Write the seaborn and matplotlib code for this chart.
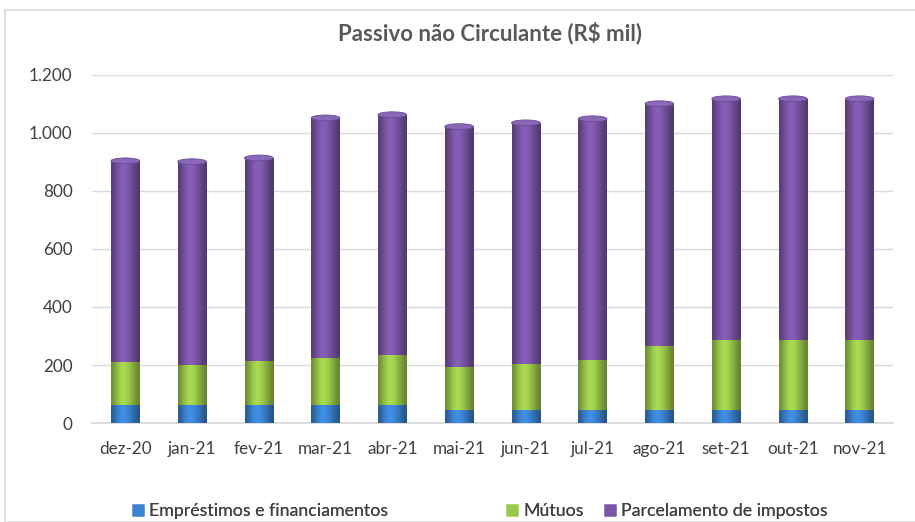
import matplotlib
matplotlib.use("Agg")
import matplotlib.pyplot as plt
import numpy as np
import pandas as pd
import seaborn as sns
from matplotlib.patches import Ellipse, Rectangle
from matplotlib.lines import Line2D

months = ["dez-20", "jan-21", "fev-21", "mar-21", "abr-21", "mai-21",
          "jun-21", "jul-21", "ago-21", "set-21", "out-21", "nov-21"]
emprestimos = [62, 62, 62, 62, 62, 44, 44, 44, 44, 44, 44, 44]
mutuos = [149, 139, 153, 163, 174, 150, 161, 174, 220, 243, 243, 243]
parcelamento = [693, 700, 699, 827, 827, 828, 830, 831, 837, 831, 831, 831]
series_names = ["Empréstimos e financiamentos", "Mútuos", "Parcelamento de impostos"]
colors = ["#3b82d0", "#9bc84a", "#7b56a8"]

sns.set_theme(style="white")
plt.rcParams["font.family"] = ["Lato", "DejaVu Sans"]

df = pd.DataFrame({"mes": months, "emp": emprestimos, "mut": mutuos, "parc": parcelamento})
df["lvl1"] = df["emp"]
df["lvl2"] = df["emp"] + df["mut"]
df["lvl3"] = df["lvl2"] + df["parc"]

fig = plt.figure(figsize=(9.15, 5.22), dpi=100)
fig.patches.append(Rectangle((5 / 915, 0.0), 1.0, 1 - 10 / 522, transform=fig.transFigure,
                             fill=False, edgecolor="#d9d9d9", linewidth=1.2))
ax = fig.add_axes([92 / 915, 1 - 423 / 522, 801 / 915, 348 / 522])

bar_w = 0.43
layers = [("lvl3", colors[2], 2), ("lvl2", colors[1], 3), ("lvl1", colors[0], 4)]
for col, c, z in layers:
    n_before = len(ax.patches)
    sns.barplot(data=df, x="mes", y=col, color=c, width=bar_w, saturation=1,
                ax=ax, zorder=z, linewidth=0)
    # cylinder-like shading
    rgb = np.array(matplotlib.colors.to_rgb(c))
    prof = np.array([0.72, 0.85, 0.98, 1.08, 1.1, 1.05, 0.96, 0.86, 0.76, 0.66])
    img = np.clip(prof[:, None] * rgb[None, :], 0, 1)[None, :, :]
    for p in ax.patches[n_before:]:
        x0, y0 = p.get_x(), p.get_y()
        w, h = p.get_width(), p.get_height()
        im = ax.imshow(img, extent=[x0, x0 + w, y0, y0 + h], aspect="auto",
                       zorder=z + 0.1, interpolation="bicubic")
        im.set_clip_path(p)

# top caps and floor shadows of the cylinders
for i, top in enumerate(df["lvl3"]):
    ax.add_patch(Ellipse((i, top), bar_w, 20, facecolor="#8a68b8",
                         edgecolor="#6a4a94", linewidth=0.6, zorder=5))
    ax.add_patch(Ellipse((i + 0.05, -4), bar_w * 1.6, 14, facecolor="#d8d8d8",
                         edgecolor="none", zorder=1.5))

ax.set_xlim(-0.5, len(months) - 0.5)
ax.set_ylim(0, 1200)
ax.set_yticks(range(0, 1201, 200))
ax.set_yticklabels([f"{v:,}".replace(",", ".") for v in range(0, 1201, 200)])
ax.yaxis.grid(True, color="#d9d9d9", linewidth=1)
ax.set_axisbelow(True)
for s in ["top", "right", "left"]:
    ax.spines[s].set_visible(False)
ax.spines["bottom"].set_color("#d9d9d9")
ax.tick_params(axis="both", length=0, labelsize=12.3, colors="#404040")
ax.tick_params(axis="y", pad=14)
ax.tick_params(axis="x", pad=13)
ax.set_xlabel("")
ax.set_ylabel("")

fig.text(0.535, 1 - 33 / 522, "Passivo não Circulante (R$ mil)", ha="center", va="center",
         fontsize=16, fontweight="bold", color="#595959")

# legend entries placed individually (uneven spacing as in the original)
legend_x = [118, 492, 590]
for name, c, lx in zip(series_names, colors, legend_x):
    h = Line2D([0], [0], marker="s", linestyle="", markersize=9,
               markerfacecolor=c, markeredgecolor="none")
    leg = fig.legend([h], [name], loc="center left", bbox_to_anchor=(lx / 915, 1 - 511 / 522),
                     frameon=False, fontsize=12.8, handletextpad=0.05, handlelength=1.2,
                     borderpad=0, labelcolor="#404040")
    fig.add_artist(leg)

fig.savefig("out.png", dpi=100)
